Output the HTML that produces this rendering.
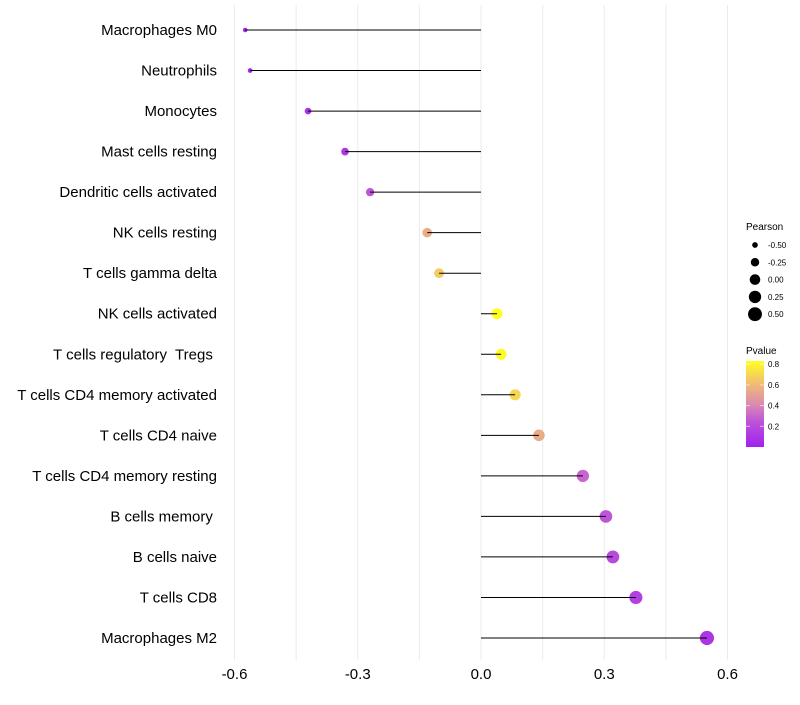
<!DOCTYPE html>
<html><head><meta charset="utf-8"><style>
body{margin:0;background:#fff;font-family:"Liberation Sans",sans-serif}
text{white-space:pre}
</style></head><body>
<svg id="chart" width="800" height="700" xmlns="http://www.w3.org/2000/svg">
<defs><linearGradient id="pg" x1="0" y1="1" x2="0" y2="0">
<stop offset="0" stop-color="#A020F0"/><stop offset="0.3" stop-color="#BE55D8"/><stop offset="0.5" stop-color="#DA8CB0"/><stop offset="0.72" stop-color="#F0B878"/><stop offset="1" stop-color="#FFFF20"/></linearGradient></defs>
<g id="grid"></g><g id="marks"></g><g id="labels"></g><g id="legend"></g>
</svg>
<script>
const categories=["Macrophages M0","Neutrophils","Monocytes","Mast cells resting","Dendritic cells activated","NK cells resting","T cells gamma delta","NK cells activated","T cells regulatory  Tregs ","T cells CD4 memory activated","T cells CD4 naive","T cells CD4 memory resting","B cells memory ","B cells naive","T cells CD8","Macrophages M2"];
const pearson=[-0.574,-0.562,-0.421,-0.331,-0.270,-0.131,-0.102,0.039,0.049,0.083,0.141,0.248,0.304,0.321,0.377,0.550];
const pvalue=[0.03,0.04,0.08,0.12,0.25,0.55,0.66,0.83,0.82,0.7,0.55,0.3,0.25,0.2,0.15,0.1];
const xTicks=[-0.6,-0.3,0,0.3,0.6];
const xTickLabels=["-0.6","-0.3","0.0","0.3","0.6"];
const sizeBreaks=[-0.5,-0.25,0,0.25,0.5];
const sizeLabels=["-0.50","-0.25","0.00","0.25","0.50"];
const colorBreaks=[0.2,0.4,0.6,0.8];
const NS="http://www.w3.org/2000/svg";
const x=v=>481+(v)*(728-235)/1.2;
const y=i=>30+i*(638-30)/15;
const r=p=>Math.sqrt(Math.max(1,28+40*p));
const stops=[[0,[160,32,240]],[0.25,[190,85,216]],[0.41,[218,140,176]],[0.6,[240,184,120]],[0.83,[255,255,32]]];
function col(p){for(let k=1;k<stops.length;k++){if(p<=stops[k][0]){const a=stops[k-1],b=stops[k],t=(p-a[0])/(b[0]-a[0]);return 'rgb('+a[1].map((c,j)=>Math.round(c+(b[1][j]-c)*t)).join(',')+')';}}return 'rgb(255,255,32)';}
function el(t,a,p){const e=document.createElementNS(NS,t);for(const k in a)e.setAttribute(k,a[k]);p.appendChild(e);return e;}
const G=document.getElementById('grid'),M=document.getElementById('marks'),L=document.getElementById('labels'),LG=document.getElementById('legend');
for(let v=-0.6;v<=0.61;v+=0.15){const g=el('line',{x1:x(v),x2:x(v),y1:5,y2:660,stroke:'#ebebeb','stroke-width':1},G);

}
xTicks.forEach((v,i)=>{const t=el('text',{x:x(v),y:679,'text-anchor':'middle','font-size':15,fill:'#000'},L);t.textContent=xTickLabels[i];

});
categories.forEach((c,i)=>{
const t=el('text',{x:217,y:y(i)+5,'text-anchor':'end','font-size':15,fill:'#000'},L);t.textContent=c;


const ci=el('circle',{cx:x(pearson[i]),cy:y(i),r:r(pearson[i]),fill:col(pvalue[i])},M);


const ln=el('line',{x1:x(0),x2:x(pearson[i]),y1:y(i),y2:y(i),stroke:'#000','stroke-width':1},M);


});
let t=el('text',{x:746,y:230,'font-size':10},LG);t.textContent='Pearson';


sizeBreaks.forEach((v,i)=>{const yy=245+i*17.3;
const c=el('circle',{cx:755,cy:yy,r:r(v),fill:'#000'},LG);


const tt=el('text',{x:768,y:yy+3,'font-size':8},LG);tt.textContent=sizeLabels[i];

});
t=el('text',{x:746,y:354,'font-size':10},LG);t.textContent='Pvalue';


const bar=el('rect',{x:746,y:361,width:18,height:86,fill:'url(#pg)'},LG);


colorBreaks.forEach(v=>{const yy=447-v*103.5;
const tt=el('text',{x:768,y:yy+3,'font-size':8},LG);tt.textContent=v.toFixed(1);


el('line',{x1:746,x2:750,y1:yy,y2:yy,stroke:'#fff','stroke-opacity':0.6},LG);
el('line',{x1:760,x2:764,y1:yy,y2:yy,stroke:'#fff','stroke-opacity':0.6},LG);});
</script>
</body></html>
